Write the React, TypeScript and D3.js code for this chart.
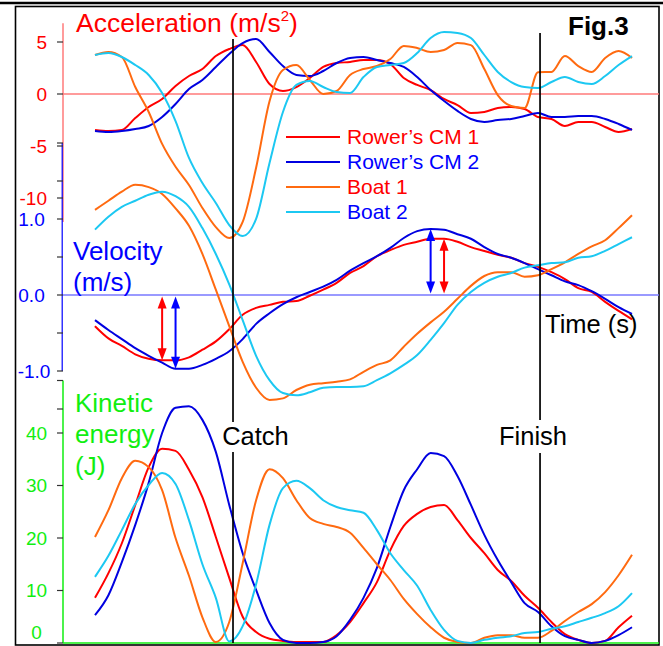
import React from 'react';
import * as d3 from 'd3';

// sample index along the stroke (uniform steps), catch / finish marks on the same scale
const samples = d3.range(41);
const catchTime = 10.28;
const finishTime = 33.15;

const seriesNames = ['Rower\u2019s CM 1', 'Rower\u2019s CM 2', 'Boat 1', 'Boat 2'];

// acceleration (m/s^2)
const accRower1 = [-3.46, -3.56, -3.46, -2.31, -1.25, -0.48, 0.77, 1.73, 2.4, 3.65, 4.33, 4.71, 3.08, 0.96, 0.29, 0.67, 1.54, 2.6, 2.98, 3.08, 3.27, 3.27, 2.88, 1.54, 0.87, 0.38, -0.48, -1.06, -1.83, -1.73, -1.35, -1.25, -1.44, -2.21, -2.4, -3.08, -2.69, -2.69, -3.17, -3.65, -3.37];
const accRower2 = [-3.56, -3.65, -3.56, -3.37, -3.08, -2.21, -0.96, 0.48, 1.35, 2.6, 3.85, 4.9, 5.29, 4.04, 2.69, 1.83, 1.73, 2.21, 2.98, 3.46, 3.56, 3.27, 2.98, 2.6, 1.63, 0.38, -0.67, -1.63, -2.4, -2.69, -2.5, -2.4, -2.12, -1.83, -2.21, -2.21, -2.12, -2.12, -2.4, -2.88, -3.46];
const accBoat1 = [3.75, 4.04, 3.56, 0.67, -1.73, -4.8, -7.0, -8.75, -10.96, -12.8, -13.85, -12.3, -7.1, -0.7, 2.31, 2.79, 1.35, 0.0, 0.29, 1.83, 2.4, 2.69, 3.37, 4.62, 4.42, 4.04, 4.23, 4.9, 4.7, 2.4, -0.1, -1.15, -1.35, 2.1, 2.12, 3.65, 2.69, 2.12, 3.46, 4.13, 3.46];
const accBoat2 = [3.75, 3.94, 3.56, 2.79, 1.83, 0.1, -2.6, -6.15, -8.56, -10.48, -12.6, -13.65, -12.0, -6.63, -1.73, 0.87, 1.25, 0.67, 0.19, 0.1, 1.63, 2.6, 2.79, 2.98, 3.94, 5.38, 5.96, 5.87, 5.38, 3.75, 2.12, 1.15, 0.67, 0.58, 1.15, 1.63, 1.15, 0.96, 1.73, 2.79, 3.65];

// velocity (m/s)
const velRower1 = [-0.41, -0.57, -0.67, -0.78, -0.84, -0.86, -0.86, -0.82, -0.72, -0.61, -0.45, -0.26, -0.17, -0.13, -0.09, -0.08, -0.01, 0.07, 0.16, 0.29, 0.38, 0.51, 0.59, 0.66, 0.7, 0.74, 0.74, 0.7, 0.63, 0.58, 0.53, 0.49, 0.42, 0.37, 0.3, 0.21, 0.09, 0.04, -0.09, -0.21, -0.32];
const velRower2 = [-0.33, -0.46, -0.58, -0.7, -0.8, -0.89, -0.97, -0.97, -0.92, -0.84, -0.74, -0.58, -0.38, -0.24, -0.12, -0.03, 0.04, 0.11, 0.2, 0.32, 0.42, 0.51, 0.62, 0.75, 0.84, 0.87, 0.86, 0.8, 0.74, 0.63, 0.54, 0.49, 0.42, 0.34, 0.26, 0.18, 0.13, 0.05, -0.05, -0.16, -0.25];
const velBoat1 = [1.12, 1.24, 1.36, 1.45, 1.42, 1.33, 1.14, 0.91, 0.54, 0.07, -0.41, -0.88, -1.22, -1.38, -1.36, -1.25, -1.18, -1.16, -1.14, -1.11, -1.01, -0.92, -0.86, -0.68, -0.51, -0.36, -0.22, -0.05, 0.12, 0.25, 0.3, 0.3, 0.24, 0.26, 0.34, 0.43, 0.54, 0.64, 0.72, 0.88, 1.05];
const velBoat2 = [0.86, 1.03, 1.16, 1.24, 1.32, 1.36, 1.3, 1.16, 0.88, 0.54, 0.14, -0.33, -0.8, -1.12, -1.29, -1.32, -1.28, -1.22, -1.21, -1.21, -1.2, -1.12, -1.03, -0.92, -0.79, -0.59, -0.37, -0.13, 0.04, 0.16, 0.24, 0.29, 0.36, 0.39, 0.42, 0.43, 0.49, 0.51, 0.58, 0.67, 0.76];

// kinetic energy (J)
const keRower1 = [8.6, 13.3, 19.0, 26.3, 33.5, 37.0, 36.6, 33.0, 27.8, 20.2, 12.4, 5.0, 2.1, 0.8, 0.4, 0.2, 0.2, 0.2, 1.5, 4.0, 7.6, 11.6, 17.7, 22.3, 24.6, 25.9, 26.3, 23.4, 20.0, 17.1, 13.9, 11.8, 9.0, 6.7, 4.0, 1.7, 0.6, 0.0, 0.4, 3.0, 5.2];
const keRower2 = [5.3, 9.1, 15.4, 22.5, 30.5, 40.0, 44.8, 45.1, 42.5, 36.4, 26.3, 17.1, 10.1, 3.8, 0.6, 0, 0, 0.2, 1.3, 4.4, 8.6, 14.3, 22.1, 29.1, 33.1, 36.2, 35.6, 31.8, 26.3, 20.6, 15.8, 11.6, 7.6, 5.9, 3.2, 1.3, 0.6, 0, 0.4, 1.5, 3.0];
const keBoat1 = [20.2, 25.3, 31.4, 34.7, 33.5, 29.1, 20.0, 12.8, 4.9, 0.2, 4.0, 15.2, 27.2, 33.1, 31.4, 27.2, 23.8, 22.7, 22.1, 21.0, 18.1, 15.0, 12.0, 8.4, 5.5, 3.0, 1.0, 0.2, 0, 1.0, 1.5, 1.5, 1.0, 1.0, 2.3, 4.2, 5.9, 7.4, 9.7, 12.9, 16.8];
const keBoat2 = [12.6, 16.6, 21.5, 26.5, 30.1, 32.4, 30.3, 23.4, 15.0, 8.6, 0.3, 3.2, 11.2, 22.5, 29.5, 30.9, 29.5, 27.2, 25.9, 25.3, 24.8, 21.5, 17.1, 13.9, 10.9, 6.3, 2.5, 0.4, 0, 0.6, 1.0, 1.3, 1.9, 2.1, 2.7, 3.2, 4.0, 4.8, 5.7, 7.0, 9.5];

// axis ticks
const accTicks = [5, 0, -5, -10];
const velTicks = [2, 1.5, 1, 0.5, 0, -0.5, -1, -1.5];
const velLabels = [1, 0, -1];
const keTicks = [50, 40, 30, 20, 10, 0];
const keLabels = [40, 30, 20, 10, 0];

// arrows: [series index, sample index] of the rower's velocity extremes
const arrowMarks = [[0, 5], [1, 6], [1, 25], [0, 26]];

const lineColors = ['#ff0000', '#0000e0', '#ff6a10', '#1cc8f2'];
const legendText = ['#ff0000', '#0000ff', '#ff0000', '#0000ff'];
const arrowColors = ['#ff0000', '#0000ff'];
const RED = '#ff0000';
const BLUE = '#0000ff';
const GREEN = '#11ee11';

const W = 663;
const H = 646;

export default function App() {
  const x = d3.scaleLinear().domain([0, 40]).range([95, 632]);
  const yAcc = d3.scaleLinear().domain([-10, 5]).range([198, 42]);
  const yVel = d3.scaleLinear().domain([-1.5, 2]).range([409, 143]);
  const yKe = d3.scaleLinear().domain([0, 50]).range([643, 380.5]);

  const acc = [accRower1, accRower2, accBoat1, accBoat2];
  const vel = [velRower1, velRower2, velBoat1, velBoat2];
  const ke = [keRower1, keRower2, keBoat1, keBoat2];

  const mk = (sc: d3.ScaleLinear<number, number>) =>
    d3.line<number>()
      .x((_, i) => x(samples[i]))
      .y(d => sc(d))
      .curve(d3.curveMonotoneX);

  const accLine = mk(yAcc);
  const velLine = mk(yVel);
  const keLine = mk(yKe);

  const axisX = 63;
  const rightX = 659;
  const cx = x(catchTime);
  const fx = x(finishTime);
  const font = 'Liberation Sans, Arial, Helvetica, sans-serif';

  const arrow = (xp: number, y0: number, y1: number, color: string, key: string) => {
    const dir = y1 > y0 ? 1 : -1;
    const hl = 12, hw = 4.5;
    return (
      <g key={key}>
        <line x1={xp} x2={xp} y1={y0 + dir * 6} y2={y1 - dir * 6} stroke={color} strokeWidth={2} />
        <polygon points={`${xp},${y0} ${xp - hw},${y0 + dir * hl} ${xp + hw},${y0 + dir * hl}`} fill={color} />
        <polygon points={`${xp},${y1} ${xp - hw},${y1 - dir * hl} ${xp + hw},${y1 - dir * hl}`} fill={color} />
      </g>
    );
  };

  return (
    <svg width={W} height={H} style={{ position: 'absolute', left: 0, top: 0 }} fontFamily={font}>
      <rect x={0} y={0} width={W} height={H} fill="#fff" />
      {/* frame */}
      <line x1={0} x2={W} y1={3} y2={3} stroke="#000" strokeWidth={2.6} />
      <rect x={15.5} y={6.5} width={rightX - 15.5} height={645 - 6.5} fill="none" stroke="#000" strokeWidth={1.6} />

      {/* zero lines */}
      <line x1={axisX} x2={rightX} y1={yAcc(0)} y2={yAcc(0)} stroke="#ff7a7a" strokeWidth={1.5} />
      <line x1={axisX} x2={rightX} y1={yVel(0)} y2={yVel(0)} stroke="#7878ff" strokeWidth={1.5} />
      <line x1={axisX} x2={rightX} y1={yKe(0)} y2={yKe(0)} stroke={GREEN} strokeWidth={1.5} />

      {/* axes */}
      <line x1={axisX} x2={axisX} y1={yAcc(6.8)} y2={yAcc(-12.3)} stroke="#ff7a7a" strokeWidth={1.5} />
      <line x1={axisX - 0.8} x2={axisX - 0.8} y1={yVel(2)} y2={yVel(-1)} stroke={BLUE} strokeWidth={1.2} />
      <line x1={axisX} x2={axisX} y1={yKe(50)} y2={yKe(0)} stroke={GREEN} strokeWidth={1.5} />
      {accTicks.map(v => (
        <line key={'at' + v} x1={axisX - 6} x2={axisX} y1={yAcc(v)} y2={yAcc(v)} stroke="#333" strokeWidth={1.2} />
      ))}
      {velTicks.map(v => (
        <line key={'vt' + v} x1={axisX - 6} x2={axisX} y1={yVel(v)} y2={yVel(v)} stroke="#333" strokeWidth={1.2} />
      ))}
      {keTicks.map(v => (
        <line key={'kt' + v} x1={axisX - 6} x2={axisX} y1={yKe(v)} y2={yKe(v)} stroke="#333" strokeWidth={1.2} />
      ))}
      {accTicks.map(v => (
        <text key={'al' + v} x={47} y={yAcc(v)} dy="0.36em" textAnchor="end" fontSize={19} fill={RED}>{v}</text>
      ))}
      {velLabels.map(v => (
        <text key={'vl' + v} x={v < 0 ? 34 : 31.5} y={yVel(v)} dy="0.36em" textAnchor="middle" fontSize={19} fill={BLUE}>{v.toFixed(1)}</text>
      ))}
      {keLabels.map(v => (
        <text key={'kl' + v} x={36.5} y={v === 0 ? 632 : yKe(v)} dy="0.36em" textAnchor="middle" fontSize={19} fill={GREEN}>{v}</text>
      ))}

      {/* titles */}
      <text x={76} y={32} fontSize={26.5} fill={RED}>
        Acceleration (m/s<tspan fontSize={15} dy={-11}>2</tspan><tspan dy={11}>)</tspan>
      </text>
      <text x={73} y={260} fontSize={26} fill={BLUE}>Velocity</text>
      <text x={73} y={291} fontSize={26} fill={BLUE}>(m/s)</text>
      <text x={75} y={412} fontSize={26} fill={GREEN}>Kinetic</text>
      <text x={75} y={443} fontSize={26} fill={GREEN}>energy</text>
      <text x={75} y={475} fontSize={26} fill={GREEN}>(J)</text>

      {/* curves */}
      {ke.map((s, i) => (
        <path key={'ke' + i} d={keLine(s) || ''} fill="none" stroke={lineColors[i]} strokeWidth={2} />
      ))}
      {vel.map((s, i) => (
        <path key={'v' + i} d={velLine(s) || ''} fill="none" stroke={lineColors[i]} strokeWidth={2} />
      ))}
      {acc.map((s, i) => (
        <path key={'a' + i} d={accLine(s) || ''} fill="none" stroke={lineColors[i]} strokeWidth={2} />
      ))}

      {/* catch / finish */}
      <line x1={cx} x2={cx} y1={39} y2={422} stroke="#000" strokeWidth={1.7} />
      <line x1={cx} x2={cx} y1={452} y2={643} stroke="#000" strokeWidth={1.7} />
      <line x1={fx} x2={fx} y1={33} y2={420} stroke="#000" strokeWidth={1.7} />
      <line x1={fx} x2={fx} y1={453} y2={643} stroke="#000" strokeWidth={1.7} />
      <text x={cx + 22.5} y={445} fontSize={25.5} textAnchor="middle" fill="#000">Catch</text>
      <text x={fx - 7} y={445} fontSize={25.5} textAnchor="middle" fill="#000">Finish</text>
      <text x={545} y={333} fontSize={25.5} fill="#000">Time (s)</text>

      {/* arrows */}
      {arrowMarks.map(([si, ti], k) =>
        arrow(x(samples[ti]), yVel(0) + (vel[si][ti] < 0 ? 1.5 : -1.5), yVel(vel[si][ti]), arrowColors[si], 'ar' + k)
      )}

      {/* legend */}
      {seriesNames.map((n, i) => (
        <g key={'lg' + i} transform={`translate(286, ${137 + i * 25})`}>
          <line x1={0} x2={54} y1={0} y2={0} stroke={lineColors[i]} strokeWidth={2} />
          <text x={61} y={0} dy="0.35em" fontSize={21} fill={legendText[i]}>{n}</text>
        </g>
      ))}

      <text x={568} y={35} fontSize={26} fontWeight="bold" fill="#000">Fig.3</text>
    </svg>
  );
}
